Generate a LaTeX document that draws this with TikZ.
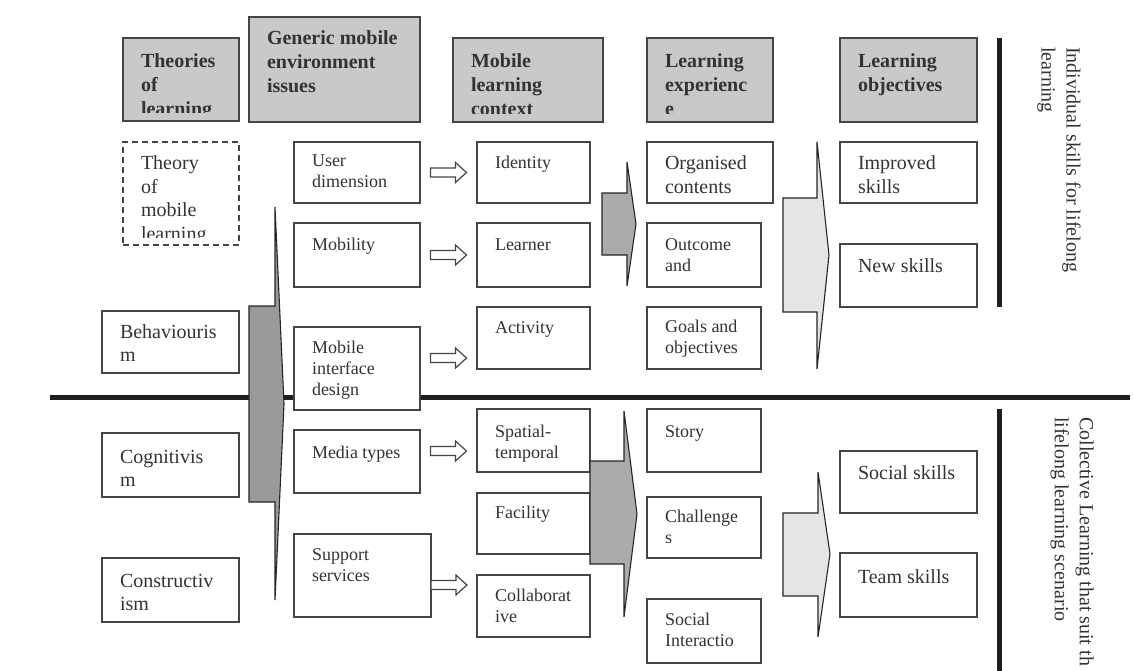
\documentclass[tikz,border=0pt]{standalone}
\usepackage{fontspec}
\setmainfont{Liberation Serif}
\usetikzlibrary{calc}

\definecolor{ink}{HTML}{333333}
\definecolor{edge}{HTML}{454545}
\definecolor{hdrfill}{HTML}{C9C9C9}
\definecolor{darkfill}{HTML}{9A9A9A}
\definecolor{midfill}{HTML}{ABABAB}
\definecolor{lightfill}{HTML}{E5E5E5}

\tikzset{
  cellbox/.style={draw=edge, line width=1.4pt, fill=white, inner sep=0pt, outer sep=0pt},
  hdrbox/.style={cellbox, fill=hdrfill},
  dashedbox/.style={cellbox, dash pattern=on 6pt off 4pt},
  hdrfont/.style={font=\fontsize{20}{24}\selectfont\bfseries, text=ink},
  bigfont/.style={font=\fontsize{20}{23.5}\selectfont, text=ink},
  smallfont/.style={font=\fontsize{18}{21}\selectfont, text=ink},
  blockarrow/.style={draw=black!85, line width=1.1pt, line join=miter},
  thickrule/.style={line width=5pt, draw=black!88},
  sidefont/.style={font=\fontsize{20}{25}\selectfont, text=ink, inner sep=0pt, align=left, rotate=-90, anchor=north west},
  hollow/.pic={\draw[draw=edge, line width=1.2pt, fill=white, line join=miter]
    (-18,-4.5) -- (7,-4.5) -- (7,-10) -- (18,0) -- (7,10) -- (7,4.5) -- (-18,4.5) -- cycle;},
}

% #1 box style, #2 font style, #3 name, #4 x, #5 y, #6 width, #7 height,
% #8 first baseline below the top edge, #9 text (clipped to the box)
\newcommand{\cell}[9]{%
  \node[#1, anchor=north west, minimum width=#6pt, minimum height=#7pt,
    path picture={
      \clip (path picture bounding box.north west) rectangle
            ([yshift=8pt]path picture bounding box.south east);
      \node[draw=none, fill=none, anchor=base west, inner sep=0pt, #2]
        at ([xshift=18pt, yshift=-#8pt]path picture bounding box.north west)
        {\parbox[t]{200pt}{#9}};
    }] (#3) at (#4,#5) {};}

\begin{document}
\begin{tikzpicture}[x=1pt, y=-1pt]
\useasboundingbox (0,0) rectangle (1134,671);
\fill[white] (0,0) rectangle (1134,671);

% dividing rules
\coordinate (hl) at (50,397);
\coordinate (hr) at (1130,397);
\draw[thickrule] (hl) -- (hr);
\coordinate (vt1) at (999,38);
\coordinate (vb1) at (999,307);
\draw[thickrule] (vt1) -- (vb1);
\coordinate (vt2) at (999,409);
\coordinate (vb2) at (999,675);
\draw[thickrule] (vt2) -- (vb2);

% column headers
\cell{hdrbox}{hdrfont}{thl}{123}{38}{116}{83}{30}{Theories\\of\\learning}
\cell{hdrbox}{hdrfont}{gen}{249}{17}{171}{105}{28}{Generic mobile\\environment\\issues}
\cell{hdrbox}{hdrfont}{mlc}{453}{38}{150}{84}{30}{Mobile\\learning\\context}
\cell{hdrbox}{hdrfont}{lex}{647}{38}{126}{84}{30}{Learning\\experienc\\e}
\cell{hdrbox}{hdrfont}{lob}{840}{38}{137}{84}{30}{Learning\\objectives}

% theories of learning
\cell{dashedbox}{bigfont}{tml}{123}{142}{116}{103}{28}{Theory\\of\\mobile\\learning}
\cell{cellbox}{bigfont}{beh}{102}{311}{137}{62}{27}{Behaviouris\\m}
\cell{cellbox}{bigfont}{cog}{102}{433}{137}{64}{30}{Cognitivis\\m}
\cell{cellbox}{bigfont}{con}{102}{558}{137}{64}{29}{Constructiv\\ism}

% generic mobile environment issues
\cell{cellbox}{smallfont}{ud}{294}{142}{126}{61}{25}{User\\dimension}
\cell{cellbox}{smallfont}{mob}{294}{223}{126}{64}{27}{Mobility}
\cell{cellbox}{smallfont}{mid}{294}{327}{126}{83}{26}{Mobile\\interface\\design}
\cell{cellbox}{smallfont}{med}{294}{430}{126}{63}{28}{Media types}
\cell{cellbox}{smallfont}{ss}{294}{534}{137}{83}{26}{Support\\services}

% mobile learning context
\cell{cellbox}{smallfont}{id}{477}{142}{113}{61}{26}{Identity}
\cell{cellbox}{smallfont}{lea}{477}{223}{113}{64}{27}{Learner}
\cell{cellbox}{smallfont}{act}{477}{307}{113}{62}{26}{Activity}
\cell{cellbox}{smallfont}{spt}{477}{409}{113}{63}{28}{Spatial-\\temporal}
\cell{cellbox}{smallfont}{fac}{477}{493}{113}{61}{25}{Facility}
\cell{cellbox}{smallfont}{col}{477}{575}{113}{62}{26}{Collaborat\\ive}

% learning experience
\cell{cellbox}{bigfont}{org}{647}{142}{126}{61}{28}{Organised\\contents}
\cell{cellbox}{smallfont}{out}{647}{223}{114}{64}{27}{Outcome\\and}
\cell{cellbox}{smallfont}{goa}{647}{307}{114}{62}{25}{Goals and\\objectives}
\cell{cellbox}{smallfont}{sto}{647}{409}{114}{63}{28}{Story}
\cell{cellbox}{smallfont}{cha}{647}{497}{114}{61}{25}{Challenge\\s}
\cell{cellbox}{smallfont}{soc}{647}{599}{114}{64}{26}{Social\\Interactio}

% learning objectives
\cell{cellbox}{bigfont}{imp}{840}{142}{137}{61}{28}{Improved\\skills}
\cell{cellbox}{bigfont}{new}{840}{244}{137}{63}{28}{New skills}
\cell{cellbox}{bigfont}{ssk}{840}{451}{137}{62}{28}{Social skills}
\cell{cellbox}{bigfont}{tsk}{840}{553}{137}{64}{30}{Team skills}

% block arrows between the columns
\draw[blockarrow, fill=darkfill]
  (249,306) -- (275,306) -- (275,207) -- (284,404) -- (275,600) -- (275,502) -- (249,502) -- cycle;
\draw[blockarrow, fill=midfill]
  (602,193) -- (627,193) -- (627,162) -- (636,224) -- (627,286) -- (627,255) -- (602,255) -- cycle;
\draw[blockarrow, fill=midfill]
  (590,461) -- (624,461) -- (624,411) -- (637,514) -- (624,617) -- (624,564) -- (590,564) -- cycle;
\draw[blockarrow, fill=lightfill]
  (783,198) -- (817,198) -- (817,142) -- (829,255) -- (817,369) -- (817,312) -- (783,312) -- cycle;
\draw[blockarrow, fill=lightfill]
  (783,513) -- (818,513) -- (818,472) -- (830,554) -- (818,637) -- (818,596) -- (783,596) -- cycle;

% hollow arrows from issues to context
\pic at ($(ud.east)!0.5!(id.west)$) {hollow};
\pic at ($(mob.east)!0.5!(lea.west)$) {hollow};
\pic at ($([yshift=10.5pt]mid.east)!0.5!([yshift=-20pt]act.west)$) {hollow};
\pic at ($(med.east)!0.5!(spt.west)$) {hollow};
\pic at ($([yshift=-9.5pt]ss.east)!0.39!([yshift=21pt]col.west)$) {hollow};

% side captions
\node[sidefont] (indiv) at (1081,47) {Individual skills for lifelong\\learning};
\node[sidefont] (collect) at (1094,417) {Collective Learning that suit th\\lifelong learning scenario};
\end{tikzpicture}
\end{document}
